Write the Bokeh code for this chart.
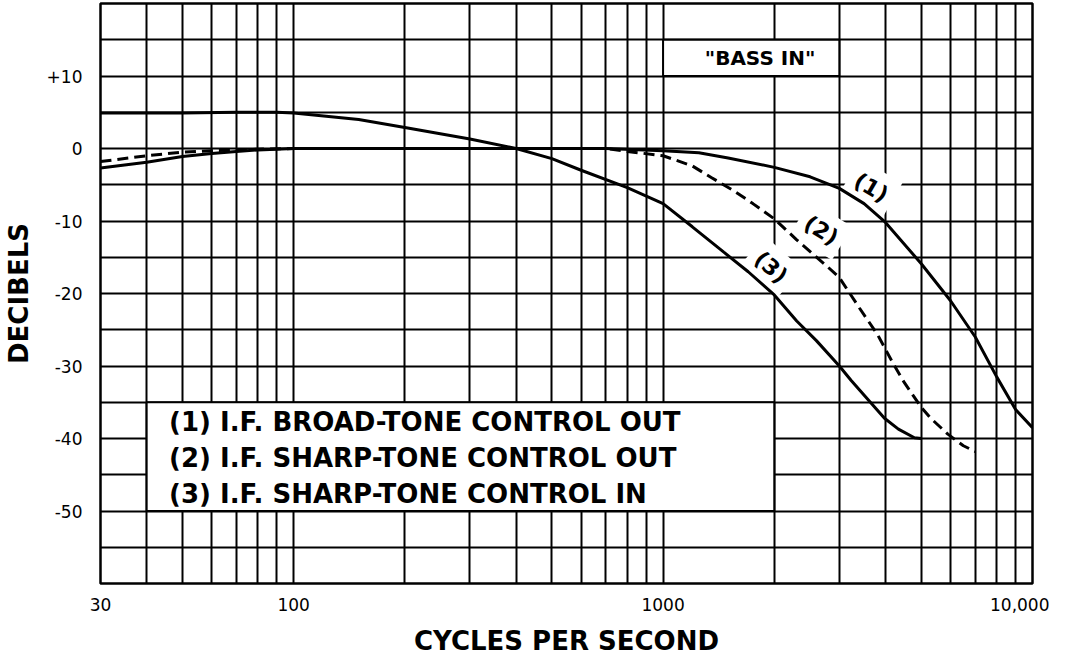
from bokeh.plotting import figure
from bokeh.models import FixedTicker, ColumnDataSource
from bokeh.core.properties import value
from bokeh.embed import file_html
from bokeh.resources import INLINE

# ---------------- data ----------------
# (1) I.F. broad-tone control out
freq1 = [30, 40, 50, 60, 70, 80, 100, 200, 400, 700, 1000, 1250, 1500, 2000,
         2500, 3000, 3500, 4000, 5000, 6000, 7000, 8000, 9000, 10000]
db1 = [-2.7, -1.9, -1.1, -0.7, -0.4, -0.2, 0, 0, 0, 0, -0.3, -0.6, -1.3, -2.6,
       -3.9, -5.5, -7.6, -10.2, -15.9, -21.0, -26.0, -31.5, -36.0, -38.5]

# (2) I.F. sharp-tone control out (dashed)
freq2 = [30, 40, 50, 60, 80, 100, 200, 400, 700, 800, 1000, 1200, 1350, 1550,
         1750, 2000, 2300, 2800, 3000, 3400, 3800, 4200, 4500, 5000, 5300,
         5900, 6500, 7000]
db2 = [-1.8, -1.0, -0.5, -0.3, -0.1, 0, 0, 0, 0, -0.4, -1.0, -2.4, -4.0, -5.8,
       -7.6, -9.7, -12.6, -16.4, -17.8, -22.0, -25.6, -29.7, -32.3, -35.7, -37.2,
       -39.4, -41.0, -41.8]

# (3) I.F. sharp-tone control in
freq3 = [30, 50, 70, 90, 100, 150, 200, 300, 400, 500, 600, 800, 1000, 1200,
         1460, 1700, 2000, 2300, 2600, 3000, 3230, 3670, 3975, 4335, 4790, 5000]
db3 = [4.9, 4.9, 5.0, 5.0, 4.9, 4.0, 2.9, 1.3, 0, -1.4, -3.0, -5.4, -7.6, -10.8,
       -14.3, -17.0, -20.2, -23.8, -26.5, -30.0, -32.0, -35.2, -37.2, -38.7,
       -39.9, -40.0]

x_tick_values = [30, 100, 1000, 10000]
x_tick_labels = ["30", "100", "1000", "10,000"]
y_tick_values = [10, 0, -10, -20, -30, -40, -50]
y_tick_labels = ["+10", "0", "-10", "-20", "-30", "-40", "-50"]

x_grid = [30, 40, 50, 60, 70, 80, 90, 100, 200, 300, 400, 500, 600, 700, 800,
          900, 1000, 2000, 3000, 4000, 5000, 6000, 7000, 8000, 9000, 10000]
y_grid = [20, 15, 10, 5, 0, -5, -10, -15, -20, -25, -30, -35, -40, -45, -50,
          -55, -60]

legend_lines = ["(1) I.F. BROAD-TONE CONTROL OUT",
                "(2) I.F. SHARP-TONE CONTROL OUT",
                "(3) I.F. SHARP-TONE CONTROL IN"]
legend_x = [46, 46, 46]
legend_y = [-37.7, -42.7, -47.6]
legend_box = dict(left=[40], right=[2000], bottom=[-50], top=[-35])

note_text = ['"BASS IN"']
note_x = [1830]
note_y = [12.5]
note_box = dict(left=[1000], right=[3000], bottom=[10], top=[15])

curve_labels = ["(1)", "(2)", "(3)"]
curve_label_x = [3660, 2680, 1960]
curve_label_y = [-5.4, -11.3, -16.4]
curve_label_angle = [-30, -32, -42]

# ---------------- figure ----------------
FONT = "DejaVu Sans"

p = figure(width=1049, height=658, x_axis_type="log",
           x_range=(30, 10000), y_range=(-60, 20),
           output_backend="svg", toolbar_location=None,
           min_border_left=91, min_border_right=17,
           min_border_top=3, min_border_bottom=75)

p.background_fill_color = "white"
p.border_fill_color = "white"
p.outline_line_color = "black"
p.outline_line_width = 2.5

# grid
p.xgrid.ticker = FixedTicker(ticks=x_grid)
p.ygrid.ticker = FixedTicker(ticks=y_grid)
for g in (p.xgrid, p.ygrid):
    g.grid_line_color = "black"
    g.grid_line_width = 2
    g.grid_line_alpha = 1.0
p.xgrid.minor_grid_line_color = None

# axes
p.xaxis.ticker = FixedTicker(ticks=x_tick_values)
p.xaxis.major_label_overrides = {v: l for v, l in zip(x_tick_values, x_tick_labels)}
p.yaxis.ticker = FixedTicker(ticks=y_tick_values)
p.yaxis.major_label_overrides = {v: l for v, l in zip(y_tick_values, y_tick_labels)}

for ax in (p.xaxis, p.yaxis):
    ax.axis_line_color = None
    ax.major_tick_line_color = None
    ax.minor_tick_line_color = None
    ax.major_label_text_font = FONT
    ax.major_label_text_font_size = "17px"
    ax.major_label_text_color = "black"
    ax.axis_label_text_font = FONT
    ax.axis_label_text_font_style = "bold"
    ax.axis_label_text_font_size = "26px"
    ax.axis_label_text_color = "black"

p.xaxis.major_label_standoff = 8
p.xaxis.axis_label_standoff = 12
p.yaxis.major_label_standoff = 12
p.yaxis.axis_label_standoff = 10

p.xaxis.axis_label = "CYCLES PER SECOND"
p.yaxis.axis_label = "DECIBELS"

# legend box and note box
p.quad(source=ColumnDataSource(legend_box), left="left", right="right",
       bottom="bottom", top="top", fill_color="white", line_color="black",
       line_width=2)
p.quad(source=ColumnDataSource(note_box), left="left", right="right",
       bottom="bottom", top="top", fill_color="white", line_color="black",
       line_width=2)

p.text(x=legend_x, y=legend_y, text=legend_lines,
       text_font=value(FONT), text_font_style="bold", text_font_size="26px",
       text_align="left", text_baseline="middle", text_color="black")

p.text(x=note_x, y=note_y, text=note_text,
       text_font=value(FONT), text_font_style="bold", text_font_size="20px",
       text_align="center", text_baseline="middle", text_color="black")

# curve number labels (with white patches over the grid)
p.text(x=curve_label_x, y=curve_label_y, text=curve_labels,
       angle=curve_label_angle, angle_units="deg",
       text_font=value(FONT), text_font_style="bold", text_font_size="22px",
       text_align="center", text_baseline="middle", text_color="black",
       background_fill_color="white", padding=7)

# curves
p.line(freq1, db1, line_color="black", line_width=3)
p.line(freq2, db2, line_color="black", line_width=3, line_dash="11 6")
p.line(freq3, db3, line_color="black", line_width=3)

open("out.html", "w").write(file_html(p, INLINE))
